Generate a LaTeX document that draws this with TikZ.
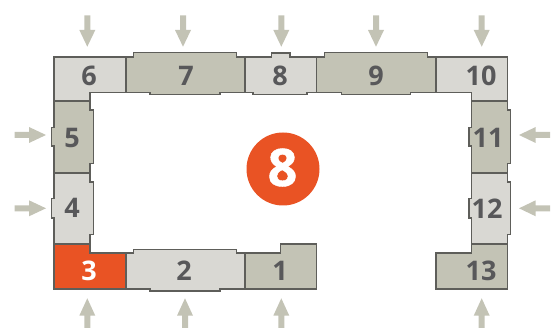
\documentclass[tikz,border=0pt]{standalone}
\usepackage{fontspec}
\setmainfont{Open Sans}
\definecolor{lightunit}{HTML}{D9D8D3}
\definecolor{darkunit}{HTML}{C3C3B5}
\definecolor{hotunit}{HTML}{E95324}
\definecolor{edgegrey}{HTML}{5E5E5A}
\definecolor{labelgrey}{HTML}{58585A}
\tikzset{
  unit/.style={draw=edgegrey,line width=1.4pt,line join=miter},
  lightu/.style={unit,fill=lightunit},
  darku/.style={unit,fill=darkunit},
  hotu/.style={unit,fill=hotunit},
  pointer/.style={fill=darkunit,draw=none},
  num/.style={font=\fontsize{27}{27}\selectfont\bfseries,text=labelgrey,inner sep=0pt},
}
\newcommand{\downarr}[1]{\fill[pointer] (#1-3,15.3) -- (#1+3,15.3) -- (#1+3,30) -- (#1+8,30) -- (#1,46.7) -- (#1-8,30) -- (#1-3,30) -- cycle;}
\newcommand{\uparr}[1]{\fill[pointer] (#1-3,328) -- (#1+3,328) -- (#1+3,315.7) -- (#1+8,315.7) -- (#1,298.3) -- (#1-8,315.7) -- (#1-3,315.7) -- cycle;}
\newcommand{\rightarr}[1]{\fill[pointer] (14.7,#1-3) -- (29,#1-3) -- (29,#1-8) -- (46,#1) -- (29,#1+8) -- (29,#1+3) -- (14.7,#1+3) -- cycle;}
\newcommand{\leftarr}[1]{\fill[pointer] (550,#1-3) -- (535.7,#1-3) -- (535.7,#1-8) -- (519,#1) -- (535.7,#1+8) -- (535.7,#1+3) -- (550,#1+3) -- cycle;}
\begin{document}
\begin{tikzpicture}[x=1pt,y=-1pt]
\useasboundingbox (0,0) rectangle (554,328);
% pointers
\downarr{87.3}\downarr{183}\downarr{281.3}\downarr{376}\downarr{481.7}
\uparr{87.3}\uparr{185}\uparr{281.3}\uparr{481.7}
\rightarr{135}\rightarr{208.3}
\leftarr{135}\leftarr{208.3}
% units
\draw[lightu] (54,57) -- (126,57) -- (126,92.7) -- (90,92.7) -- (90,101) -- (54,101) -- cycle;
\draw[darku] (126,57) -- (133.5,57) -- (133.5,52.7) -- (236.7,52.7) -- (236.7,57) -- (245,57) -- (245,92.7) -- (220,92.7) -- (220,94.7) -- (150,94.7) -- (150,92.7) -- (126,92.7) -- cycle;
\draw[lightu] (245,57) -- (271.5,57) -- (271.5,53) -- (290,53) -- (290,57) -- (316.3,57) -- (316.3,92.7) -- (307,92.7) -- (307,94.7) -- (253,94.7) -- (253,92.7) -- (245,92.7) -- cycle;
\draw[darku] (316.3,57) -- (324.7,57) -- (324.7,52.7) -- (427.3,52.7) -- (427.3,57) -- (436,57) -- (436,92.7) -- (410.7,92.7) -- (410.7,94.7) -- (341.3,94.7) -- (341.3,92.7) -- (316.3,92.7) -- cycle;
\draw[lightu] (436,57) -- (507.3,57) -- (507.3,101) -- (471.3,101) -- (471.3,92.7) -- (436,92.7) -- cycle;
\draw[darku] (471.3,101) -- (507.3,101) -- (507.3,110) -- (510.7,110) -- (510.7,163.5) -- (507.3,163.5) -- (507.3,173) -- (471.3,173) -- (471.3,146) -- (469,146) -- (469,127.3) -- (471.3,127.3) -- cycle;
\draw[lightu] (471.3,173) -- (507.3,173) -- (507.3,182) -- (510.7,182) -- (510.7,234.7) -- (507.3,234.7) -- (507.3,244) -- (471.3,244) -- (471.3,218) -- (469,218) -- (469,198.7) -- (471.3,198.7) -- cycle;
\draw[darku] (436,253) -- (471.3,253) -- (471.3,244) -- (507.3,244) -- (507.3,289) -- (436,289) -- cycle;
\draw[darku] (245,253) -- (280.7,253) -- (280.7,244) -- (316.7,244) -- (316.7,289) -- (245,289) -- cycle;
\draw[lightu] (126,253) -- (133.5,253) -- (133.5,249.7) -- (236.7,249.7) -- (236.7,253) -- (245,253) -- (245,289) -- (220,289) -- (220,291) -- (150,291) -- (150,289) -- (126,289) -- cycle;
\draw[hotu] (54,244) -- (90,244) -- (90,253) -- (126,253) -- (126,289) -- (54,289) -- cycle;
\draw[lightu] (54,173) -- (90,173) -- (90,182) -- (93.5,182) -- (93.5,234.7) -- (90,234.7) -- (90,244) -- (54,244) -- (54,218) -- (51.7,218) -- (51.7,198.7) -- (54,198.7) -- cycle;
\draw[darku] (54,101) -- (90,101) -- (90,110) -- (93.5,110) -- (93.5,163.5) -- (90,163.5) -- (90,173) -- (54,173) -- (54,146) -- (51.7,146) -- (51.7,127.3) -- (54,127.3) -- cycle;
% labels
\node[num] (n6) at (89,75.5) {6};
\node[num] (n7) at (186,75.5) {7};
\node[num] (n8) at (280,75.5) {8};
\node[num] (n9) at (376,75.5) {9};
\node[num] (n10) at (481,75.5) {10};
\node[num] (n11) at (488,137.5) {11};
\node[num] (n12) at (487,208.5) {12};
\node[num] (n13) at (481,270.5) {13};
\node[num] (n1) at (280,270.5) {1};
\node[num] (n2) at (184,270.5) {2};
\node[num,text=white] (n3) at (89,270.5) {3};
\node[num] (n4) at (72,207.5) {4};
\node[num] (n5) at (72,137.5) {5};
\node[circle,fill=hotunit,minimum size=73pt,inner sep=0pt] (big) at (283,169) {};
\node[inner sep=0pt,font=\fontsize{52}{52}\selectfont\bfseries\addfontfeature{FakeBold=0.8},text=white] (bignum) at (282.5,167.5) {8};
\end{tikzpicture}
\end{document}
